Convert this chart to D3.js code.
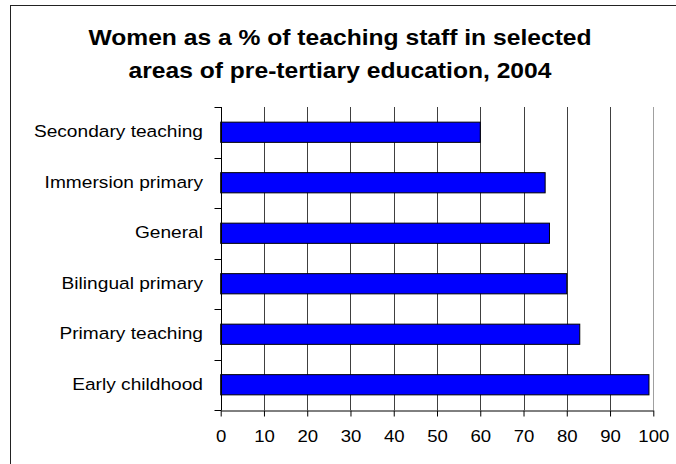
<!DOCTYPE html>
<html>
<head>
<meta charset="utf-8">
<script src="https://cdn.jsdelivr.net/npm/d3@7"></script>
<style>
  html, body { margin: 0; padding: 0; background: #fff; }
  svg { display: block; }
  text { font-family: Arial, "Liberation Sans", sans-serif; fill: #000; }
</style>
</head>
<body>
<svg id="chart" width="676" height="464"></svg>
<script>
const titleLines = ["Women as a % of teaching staff in selected", "areas of pre-tertiary education, 2004"];
const categories = ["Secondary teaching", "Immersion primary", "General", "Bilingual primary", "Primary teaching", "Early childhood"];
const values = [60, 75, 76, 80, 83, 99];
const xTicks = [0, 10, 20, 30, 40, 50, 60, 70, 80, 90, 100];

const svg = d3.select("#chart");
const W = 676, H = 464;
const plot = { left: 220.7, right: 653.3, top: 107, bottom: 410 };
const SX = 1.16; // horizontal text stretch seen in the reference

svg.append("rect").attr("width", W).attr("height", H).attr("fill", "#fff");
svg.append("rect").attr("x", 10.5).attr("y", 5.5).attr("width", 720).attr("height", 520)
  .attr("fill", "none").attr("stroke", "#222").attr("stroke-width", 1);

// title
const titleY = [45, 78];
titleLines.forEach((t, i) => {
  svg.append("text")
    .attr("transform", `translate(340,${titleY[i]}) scale(1.12,1)`)
    .attr("text-anchor", "middle")
    .attr("font-weight", "bold")
    .attr("font-size", "22px")
    .text(t);
});

const x = d3.scaleLinear().domain([0, 100]).range([plot.left, plot.right]);
const y = d3.scaleBand().domain(categories).range([plot.top, plot.bottom])
  .paddingInner(0.6).paddingOuter(0.3);
const step = y.step();
const boundaries = d3.range(categories.length + 1).map(i => plot.top + i * step);

// gridlines
svg.append("g").selectAll("line").data(xTicks.filter(d => d > 0)).join("line")
  .attr("x1", d => Math.round(x(d)) + 0.5).attr("x2", d => Math.round(x(d)) + 0.5)
  .attr("y1", plot.top).attr("y2", plot.bottom)
  .attr("stroke", d => d === 100 ? "#a0a0a0" : "#404040").attr("stroke-width", 1);

// bars
svg.append("g").selectAll("rect").data(categories).join("rect")
  .attr("x", x(0))
  .attr("y", d => y(d))
  .attr("width", (d, i) => x(values[i]) - x(0))
  .attr("height", y.bandwidth())
  .attr("fill", "#0000ff").attr("stroke", "#000").attr("stroke-width", 1);

// y axis line and ticks
const ax0 = Math.round(x(0)) + 0.5;
svg.append("line").attr("x1", ax0).attr("x2", ax0).attr("y1", plot.top).attr("y2", plot.bottom)
  .attr("stroke", "#000");
svg.append("g").selectAll("line").data(boundaries).join("line")
  .attr("x1", ax0 - 7).attr("x2", ax0).attr("y1", d => Math.round(d) + 0.5).attr("y2", d => Math.round(d) + 0.5)
  .attr("stroke", "#000");

// x axis
const xAxis = d3.axisBottom(x).tickValues(xTicks).tickSize(6).tickPadding(14).tickSizeOuter(0);
const gx = svg.append("g").attr("transform", `translate(0,${Math.round(plot.bottom) + 0.5})`).call(xAxis);
gx.select(".domain").attr("stroke", "#000");
gx.selectAll(".tick line").attr("stroke", "#000");
gx.selectAll(".tick text")
  .attr("font-family", "Arial, 'Liberation Sans', sans-serif")
  .attr("font-size", "16px").attr("fill", "#000")
  .attr("transform", `scale(${SX},1)`);

// y labels
svg.append("g").selectAll("text").data(categories).join("text")
  .attr("transform", d => `translate(203,${y(d) + y.bandwidth() / 2}) scale(${SX},1)`)
  .attr("text-anchor", "end")
  .attr("dy", "0.3em")
  .attr("font-size", "16.5px")
  .text(d => d);
</script>
</body>
</html>
